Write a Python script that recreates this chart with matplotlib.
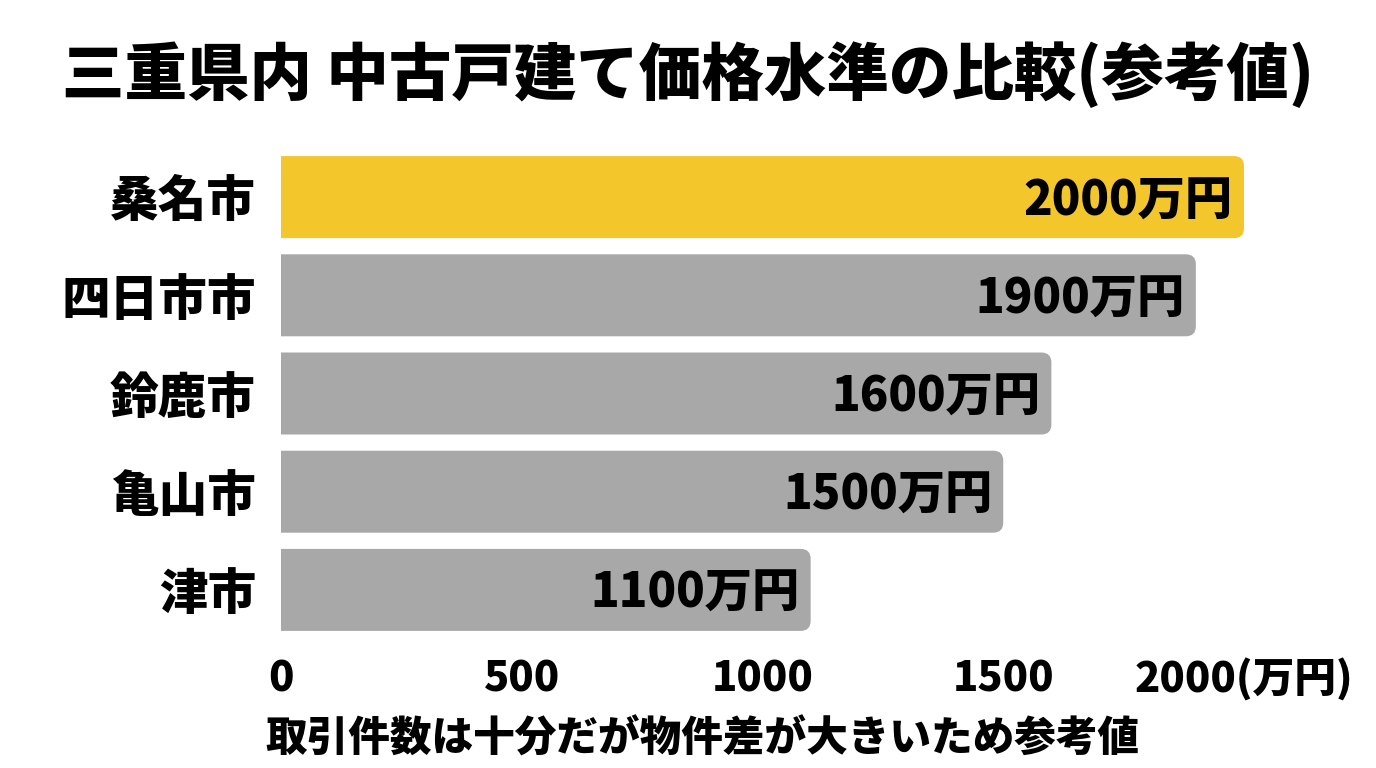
import matplotlib
matplotlib.use("Agg")
import matplotlib.pyplot as plt
from matplotlib.patches import FancyBboxPatch

plt.rcParams['font.family'] = ['Noto Sans CJK JP', 'DejaVu Sans']

# データ
cities = ["桑名市", "四日市市", "鈴鹿市", "亀山市", "津市"]
prices = [2000, 1900, 1600, 1500, 1100]
bar_labels = ["2000万円", "1900万円", "1600万円", "1500万円", "1100万円"]
tick_values = [0, 500, 1000, 1500, 2000]
tick_labels = ["0", "500", "1000", "1500", "2000(万円)"]

title = "三重県内 中古戸建て価格水準の比較(参考値)"
note = "取引件数は十分だが物件差が大きいため参考値"

YELLOW = "#F3C62B"
GRAY = "#A8A8A8"
colors = [YELLOW] + [GRAY] * (len(cities) - 1)

W, H = 1376, 768
fig = plt.figure(figsize=(W / 100, H / 100), dpi=100)
ax = fig.add_axes([281 / W, 1 - 639 / H, 963 / W, 491 / H])

bars = ax.barh(range(len(cities)), prices, height=0.835, color=colors)
ax.set_xlim(0, 2000)
ax.set_ylim(len(cities) - 0.5, -0.5)

# 角丸に置き換え
x_per_px = 2000 / 963
y_per_px = 5 / 491
r = 10 * x_per_px
for b, c in zip(bars, colors):
    x0, y0 = b.get_x(), b.get_y()
    w, h = b.get_width(), b.get_height()
    b.set_visible(False)
    p = FancyBboxPatch((x0 - r, y0), w + r, h,
                       boxstyle=f"round,pad=0,rounding_size={r}",
                       mutation_aspect=y_per_px / x_per_px,
                       fc=c, ec="none")
    ax.add_patch(p)

for i, (v, lab) in enumerate(zip(prices, bar_labels)):
    ax.text(v - 11 * x_per_px, i + 4 * y_per_px, lab, ha="right", va="center",
            fontsize=34, fontweight="black", color="black")

ax.set_yticks(range(len(cities)))
ax.set_yticklabels(cities, fontsize=35, fontweight="black")
ax.set_xticks(tick_values)
ax.set_xticklabels(tick_labels, fontsize=30, fontweight="black")
ax.tick_params(axis="y", length=0, pad=18)
ax.tick_params(axis="x", length=0, pad=14)
for s in ax.spines.values():
    s.set_visible(False)

fig.text(0.5, 1 - 75 / H, title, ha="center", va="center",
         fontsize=45, fontweight="black")
fig.text(265 / W, 1 - 740 / H, note, ha="left", va="center",
         fontsize=30, fontweight="black")

fig.savefig("out.png", dpi=100, facecolor="white")
